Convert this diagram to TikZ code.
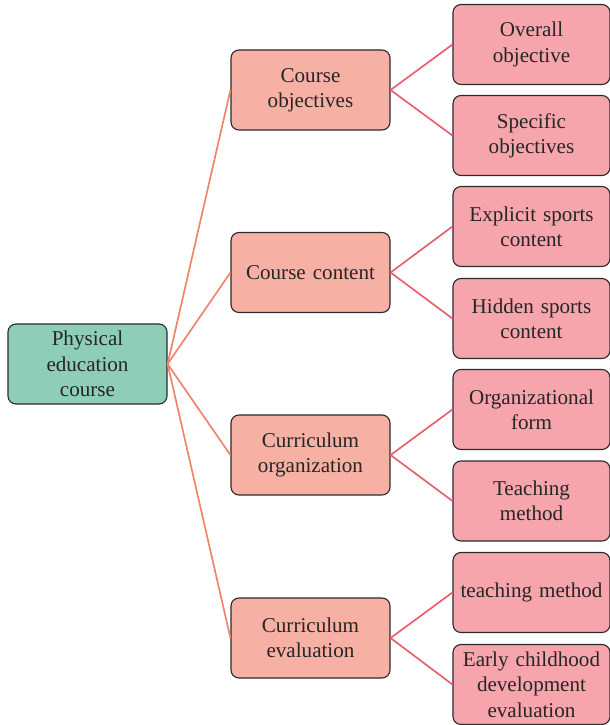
\documentclass[tikz,border=0pt]{standalone}
\usepackage{fontspec}
\setmainfont{Liberation Serif}
\usetikzlibrary{calc}

\definecolor{rootfill}{HTML}{8ECDB8}
\definecolor{midfill}{HTML}{F7B0A4}
\definecolor{leaffill}{HTML}{F5A5AB}
\definecolor{midline}{HTML}{F08468}
\definecolor{leafline}{HTML}{E8606E}
\definecolor{boxline}{HTML}{2B2B2B}

\begin{document}
\begin{tikzpicture}[
     x=0.025cm, y=-0.025cm,
     box/.style={draw=boxline,line width=0.8pt,rounded corners=0.2cm,
       align=center,inner sep=1pt,minimum height=2cm,
       font=\fontsize{15}{18}\selectfont,text=black!85},
     rootbox/.style={box,fill=rootfill,minimum width=3.975cm,text width=3.7cm},
     midbox/.style={box,fill=midfill,minimum width=3.975cm,text width=3.7cm},
     leafbox/.style={box,fill=leaffill,minimum width=3.925cm,text width=3.85cm},
     midedge/.style={draw=midline,line width=1.2pt},
     leafedge/.style={draw=leafline,line width=1.2pt}
   ]
   \path[use as bounding box] (0,0) rectangle (610,725);
   % Root.
   \node[rootbox] (pe) at (87.5,364) {Physical\\education\\course};
   % Second level.
   \node[midbox] (obj) at (310.5,90) {Course\\objectives};
   \node[midbox] (cont) at (310.5,272.5) {Course content};
   \node[midbox] (org) at (310.5,455) {Curriculum\\organization};
   \node[midbox] (eval) at (310.5,638) {Curriculum\\evaluation};
   % Leaves.
   \node[leafbox] (overall) at (531.5,44.5) {Overall\\objective};
   \node[leafbox] (specific) at (531.5,135.5) {Specific\\objectives};
   \node[leafbox] (explicit) at (531.5,226.5) {Explicit sports\\content};
   \node[leafbox] (hidden) at (531.5,318.5) {Hidden sports\\content};
   \node[leafbox] (form) at (531.5,409.5) {Organizational\\form};
   \node[leafbox] (method) at (531.5,501) {Teaching\\method};
   \node[leafbox] (tmethod) at (531.5,592.5) {teaching method};
   \node[leafbox] (early) at (531.5,684.5) {Early childhood\\development\\evaluation};
   % Connectors.
   \foreach \m in {obj,cont,org,eval}
     \draw[midedge] (pe.east) -- (\m.west);
   \foreach \m/\a/\b in {obj/overall/specific,cont/explicit/hidden,org/form/method,eval/tmethod/early}{
     \draw[leafedge] (\m.east) -- (\a.west);
     \draw[leafedge] (\m.east) -- (\b.west);
   }
 \end{tikzpicture}
\end{document}
